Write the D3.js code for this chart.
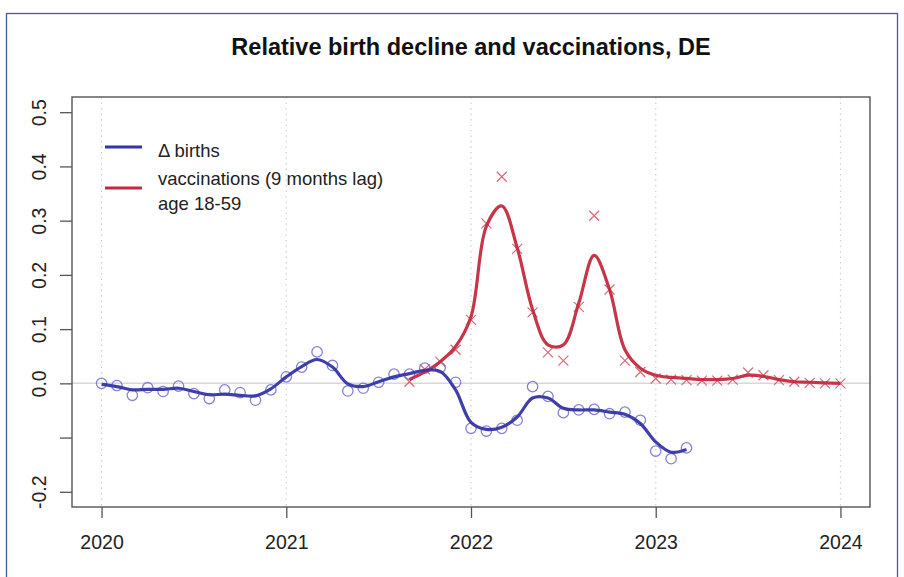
<!DOCTYPE html>
<html>
<head>
<meta charset="utf-8">
<script src="https://cdn.jsdelivr.net/npm/d3@7"></script>
<style>
  html, body { margin: 0; padding: 0; background: #fff; }
  svg text { font-family: "Liberation Sans", Arial, Helvetica, sans-serif; }
</style>
</head>
<body>
<svg id="chart" width="904" height="577"></svg>
<script>
// ---- data ----
const birthMonths = [
  "2020-01","2020-02","2020-03","2020-04","2020-05","2020-06","2020-07","2020-08","2020-09","2020-10","2020-11","2020-12",
  "2021-01","2021-02","2021-03","2021-04","2021-05","2021-06","2021-07","2021-08","2021-09","2021-10","2021-11","2021-12",
  "2022-01","2022-02","2022-03","2022-04","2022-05","2022-06","2022-07","2022-08","2022-09","2022-10","2022-11","2022-12",
  "2023-01","2023-02","2023-03"
];
const births = [
  0.000, -0.004, -0.022, -0.008, -0.015, -0.005, -0.019, -0.028, -0.012, -0.017, -0.031, -0.012,
  0.012, 0.030, 0.058, 0.033, -0.014, -0.009, 0.002, 0.017, 0.017, 0.028, 0.029, 0.002,
  -0.083, -0.088, -0.083, -0.068, -0.006, -0.024, -0.054, -0.049, -0.048, -0.056, -0.053, -0.068,
  -0.125, -0.139, -0.119
];
const birthsFit = [
  -0.002, -0.006, -0.012, -0.011, -0.011, -0.009, -0.015, -0.021, -0.020, -0.022, -0.023, -0.010,
  0.012, 0.031, 0.044, 0.030, -0.001, -0.006, 0.003, 0.012, 0.018, 0.024, 0.022, -0.012,
  -0.072, -0.085, -0.081, -0.062, -0.027, -0.027, -0.046, -0.049, -0.049, -0.053, -0.057, -0.074,
  -0.108, -0.127, -0.122
];
const vaccMonths = [
  "2021-09","2021-10","2021-11","2021-12",
  "2022-01","2022-02","2022-03","2022-04","2022-05","2022-06","2022-07","2022-08","2022-09","2022-10","2022-11","2022-12",
  "2023-01","2023-02","2023-03","2023-04","2023-05","2023-06","2023-07","2023-08","2023-09","2023-10","2023-11","2023-12",
  "2024-01"
];
const vacc = [
  0.003, 0.026, 0.040, 0.062,
  0.117, 0.295, 0.381, 0.248, 0.131, 0.057, 0.042, 0.141, 0.309, 0.173, 0.042, 0.021,
  0.009, 0.007, 0.006, 0.005, 0.005, 0.007, 0.020, 0.015, 0.006, 0.003, 0.001, 0.000,
  0.000
];
const vaccFit = [
  0.007, 0.021, 0.040, 0.068,
  0.123, 0.290, 0.327, 0.250, 0.136, 0.071, 0.071, 0.148, 0.236, 0.173, 0.062, 0.028,
  0.015, 0.011, 0.009, 0.007, 0.007, 0.009, 0.015, 0.013, 0.007, 0.003, 0.002, 0.001,
  0.000
];
const xTicks = [2020, 2021, 2022, 2023, 2024];
const yTicks = [-0.2, -0.1, 0.0, 0.1, 0.2, 0.3, 0.4, 0.5];
const yTickLabels = ["-0.2", "", "0.0", "0.1", "0.2", "0.3", "0.4", "0.5"];
const title = "Relative birth decline and vaccinations, DE";
const legendItems = [
  { label: ["\u0394 births"], color: "#3535a5" },
  { label: ["vaccinations (9 months lag)", "age 18-59"], color: "#c42a3e" }
];

// ---- layout ----
const svg = d3.select("#chart");
const plot = { left: 72, right: 870, top: 97, bottom: 507 };
const toYear = s => { const [y, m] = s.split("-").map(Number); return y + (m - 1) / 12; };

const x = d3.scaleLinear().domain([2019.84, 2024.16]).range([plot.left, plot.right]);
const y = d3.scaleLinear().domain([-0.228, 0.528]).range([plot.bottom, plot.top]);

// outer frame
svg.append("rect").attr("x", 6.5).attr("y", 13.5).attr("width", 891).attr("height", 600)
  .attr("fill", "none").attr("stroke", "#3f5d98").attr("stroke-width", 1.3);

// grid
svg.append("g").selectAll("line").data(xTicks).join("line")
  .attr("x1", d => x(d)).attr("x2", d => x(d))
  .attr("y1", plot.top).attr("y2", plot.bottom)
  .attr("stroke", "#cfcfcf").attr("stroke-width", 1.2).attr("stroke-dasharray", "1.5,4");
svg.append("line").attr("x1", plot.left).attr("x2", plot.right)
  .attr("y1", y(0)).attr("y2", y(0)).attr("stroke", "#d8d8d8").attr("stroke-width", 1.5);

// axes
const xAxis = d3.axisBottom(x).tickValues(xTicks).tickFormat(d3.format("d")).tickSize(11).tickPadding(17);
const gx = svg.append("g").attr("transform", `translate(0,${plot.bottom})`).call(xAxis);
gx.select(".domain").remove();
gx.selectAll("line").attr("stroke", "#555").attr("stroke-width", 1.3);
gx.selectAll("text").attr("font-size", 19.5).attr("fill", "#222")
  .attr("font-family", "Liberation Sans, Arial, sans-serif");

const yAxis = d3.axisLeft(y).tickValues(yTicks).tickFormat((d, i) => yTickLabels[i]).tickSize(12).tickPadding(0);
const gy = svg.append("g").attr("transform", `translate(${plot.left},0)`).call(yAxis);
gy.select(".domain").remove();
gy.selectAll("line").attr("stroke", "#555").attr("stroke-width", 1.3);
gy.selectAll("text").attr("font-size", 19.5).attr("fill", "#222")
  .attr("font-family", "Liberation Sans, Arial, sans-serif")
  .attr("text-anchor", "middle").attr("x", null).attr("dy", null)
  .attr("transform", "translate(-26,0) rotate(-90)");

// plot box
svg.append("rect").attr("x", plot.left).attr("y", plot.top)
  .attr("width", plot.right - plot.left).attr("height", plot.bottom - plot.top)
  .attr("fill", "none").attr("stroke", "#555").attr("stroke-width", 1.4);

// title
svg.append("text").attr("x", (plot.left + plot.right) / 2).attr("y", 55)
  .attr("text-anchor", "middle").attr("font-size", 23.5).attr("font-weight", "bold").attr("fill", "#111")
  .text(title);

// series
const birthData = birthMonths.map((m, i) => ({ t: toYear(m), v: births[i], f: birthsFit[i] }));
const vaccData = vaccMonths.map((m, i) => ({ t: toYear(m), v: vacc[i], f: vaccFit[i] }));

const line = d3.line().x(d => x(d.t)).y(d => y(d.f)).curve(d3.curveCatmullRom.alpha(0.5));

// vaccination markers (x)
const xm = 5;
svg.append("g").selectAll("path").data(vaccData).join("path")
  .attr("d", d => { const cx = x(d.t), cy = y(d.v);
    return `M${cx - xm},${cy - xm}L${cx + xm},${cy + xm}M${cx - xm},${cy + xm}L${cx + xm},${cy - xm}`; })
  .attr("stroke", "#d0505f").attr("stroke-width", 1.2).attr("fill", "none").attr("opacity", 0.85);

// births circles
svg.append("g").selectAll("circle").data(birthData).join("circle")
  .attr("cx", d => x(d.t)).attr("cy", d => y(d.v)).attr("r", 5.2)
  .attr("fill", "none").attr("stroke", "#6d6dcc").attr("stroke-width", 1.3).attr("opacity", 0.85);

// smooth lines
svg.append("path").datum(vaccData).attr("d", line)
  .attr("fill", "none").attr("stroke", legendItems[1].color).attr("stroke-width", 3.2).attr("opacity", 0.95);
svg.append("path").datum(birthData).attr("d", line)
  .attr("fill", "none").attr("stroke", legendItems[0].color).attr("stroke-width", 3.2).attr("opacity", 0.95);

// legend
const lg = svg.append("g");
const lineY = [147, 188];
const textY = [[157], [185, 210]];
legendItems.forEach((it, i) => {
  lg.append("line").attr("x1", 105).attr("x2", 142).attr("y1", lineY[i]).attr("y2", lineY[i])
    .attr("stroke", it.color).attr("stroke-width", 3);
  it.label.forEach((t, j) => {
    lg.append("text").attr("x", 158).attr("y", textY[i][j]).attr("font-size", 18.5).attr("fill", "#222").text(t);
  });
});
</script>
</body>
</html>
